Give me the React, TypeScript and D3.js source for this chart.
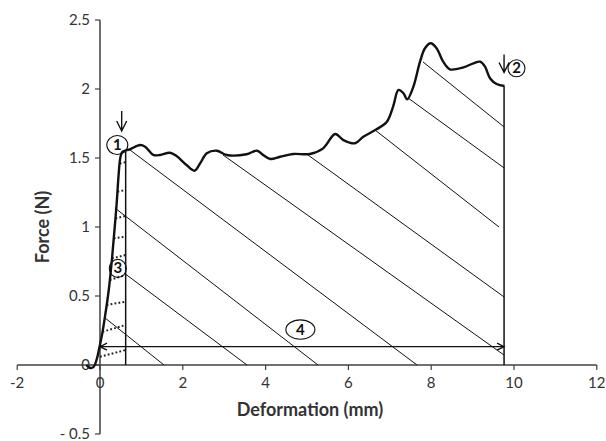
import React, { useEffect, useRef } from 'react';
import * as d3 from 'd3';

// trace: deformation (mm) and force (N)
const deformation = [
  -0.33, -0.25, -0.16, -0.08, -0.02, 0.05, 0.13, 0.21, 0.29, 0.35, 0.40, 0.45, 0.49, 0.54,
  0.72, 0.97, 1.09, 1.29, 1.45, 1.69, 1.85, 2.09, 2.28, 2.42, 2.58, 2.82, 3.06, 3.54,
  3.79, 3.94, 4.11, 4.35, 4.67, 5.07, 5.39, 5.68, 5.88, 6.16, 6.36, 6.68, 6.93, 7.08,
  7.21, 7.33, 7.42, 7.57, 7.73, 7.85, 7.99, 8.13, 8.29, 8.45, 8.78, 9.02, 9.18, 9.30,
  9.42, 9.58, 9.77
];
const force = [
  0.0, -0.02, -0.015, 0.04, 0.12, 0.22, 0.37, 0.54, 0.77, 0.98, 1.16, 1.38, 1.50, 1.545,
  1.563, 1.594, 1.582, 1.522, 1.522, 1.538, 1.514, 1.449, 1.408, 1.462, 1.534, 1.553, 1.522, 1.527,
  1.553, 1.522, 1.493, 1.509, 1.529, 1.529, 1.570, 1.674, 1.630, 1.607, 1.654, 1.708, 1.763, 1.872,
  1.993, 1.969, 1.925, 2.017, 2.198, 2.295, 2.331, 2.295, 2.198, 2.143, 2.157, 2.186, 2.198, 2.162,
  2.078, 2.036, 2.022
];

const xTicks = [-2, 0, 2, 4, 6, 8, 10, 12];
const xTickLabels = ['-2', '0', '2', '4', '6', '8', '10', '12'];
const yTicks = [-0.5, 0, 0.5, 1, 1.5, 2, 2.5];
const yTickLabels = ['- 0.5', '0', '0.5', '1', '1.5', '2', '2.5'];

// hatching of the work area, each [x0, f0, x1, f1]
const hatchLines = [
  [0.725, 1.558, 7.657, 0],
  [0.36, 1.138, 5.266, 0],
  [0.58, 0.667, 3.551, 0],
  [0.121, 0.341, 1.546, 0],
  [2.971, 1.522, 9.76, 0.072],
  [5.024, 1.522, 9.76, 0.493],
  [6.643, 1.703, 9.638, 1.0],
  [7.44, 1.935, 9.76, 1.428],
  [7.802, 2.196, 9.76, 1.725]
];
// dotted hatching of the loading triangle
const dottedLines = [
  [0.477, 1.46, 0.62, 1.47],
  [0.422, 1.256, 0.62, 1.268],
  [0.373, 1.063, 0.62, 1.08],
  [0.332, 0.918, 0.62, 0.93],
  [0.29, 0.773, 0.62, 0.797],
  [0.236, 0.616, 0.62, 0.652],
  [0.16, 0.435, 0.62, 0.459],
  [0.061, 0.241, 0.62, 0.29],
  [0.0, 0.06, 0.62, 0.109]
];

// limits of the area
const boundX = [0.62, 9.76];
const boundTop = [1.55, 2.02];
const spanForce = 0.133;

// down arrows over points 1 and 2
const arrowX = [0.524, 9.76];
const arrowTop = [1.84, 2.25];
const arrowBottom = [1.696, 2.12];

// numbered markers
const markerLabels = ['1', '2', '3', '4'];
const markerX = [0.418, 10.06, 0.43, 4.84];
const markerF = [1.594, 2.15, 0.70, 0.257];
const markerRx = [10.5, 8.5, 8.5, 14.5];
const markerRy = [9.5, 8.5, 9, 9.7];

const App = () => {
  const ref = useRef(null);

  useEffect(() => {
    const svg = d3.select(ref.current);
    svg.selectAll('*').remove();

    const x = d3.scaleLinear().domain([-2, 12]).range([17.2, 596.8]);
    const y = d3.scaleLinear().domain([-0.5, 2.5]).range([434, 20]);
    const font = 'Lato, "Open Sans", sans-serif';
    const ink = '#111';
    const axisInk = '#404040';

    // axes
    svg.append('line')
      .attr('x1', x(-2)).attr('x2', x(12)).attr('y1', y(0)).attr('y2', y(0))
      .attr('stroke', axisInk).attr('stroke-width', 1.5);
    svg.append('line')
      .attr('x1', x(0)).attr('x2', x(0)).attr('y1', y(-0.5)).attr('y2', y(2.5))
      .attr('stroke', axisInk).attr('stroke-width', 1.5);

    svg.selectAll('.xtick').data(xTicks).enter().append('line')
      .attr('class', 'xtick')
      .attr('x1', d => x(d)).attr('x2', d => x(d))
      .attr('y1', y(0)).attr('y2', y(0) + 5)
      .attr('stroke', axisInk).attr('stroke-width', 1.2);
    svg.selectAll('.xlabel').data(xTicks).enter().append('text')
      .attr('class', 'xlabel')
      .attr('x', d => x(d)).attr('y', y(0) + 23)
      .attr('text-anchor', 'middle')
      .attr('font-family', font).attr('font-size', 15).attr('fill', '#333')
      .text((d, i) => xTickLabels[i]);

    svg.selectAll('.ytick').data(yTicks).enter().append('line')
      .attr('class', 'ytick')
      .attr('x1', x(0) - 5).attr('x2', x(0))
      .attr('y1', d => y(d)).attr('y2', d => y(d))
      .attr('stroke', axisInk).attr('stroke-width', 1.2);
    svg.selectAll('.ylabel').data(yTicks).enter().append('text')
      .attr('class', 'ylabel')
      .attr('x', x(0) - 10).attr('y', d => y(d) + 5)
      .attr('text-anchor', 'end')
      .attr('font-family', font).attr('font-size', 15).attr('fill', '#333')
      .text((d, i) => yTickLabels[i]);

    svg.append('text')
      .attr('x', 310).attr('y', 416)
      .attr('text-anchor', 'middle')
      .attr('font-family', font).attr('font-size', 18).attr('font-weight', 'bold').attr('fill', '#333')
      .text('Deformation (mm)');
    svg.append('text')
      .attr('transform', `translate(49,${(y(-0.5) + y(2.5)) / 2}) rotate(-90)`)
      .attr('text-anchor', 'middle')
      .attr('font-family', font).attr('font-size', 18).attr('font-weight', 'bold').attr('fill', '#333')
      .text('Force (N)');

    // hatching
    svg.append('g').selectAll('line').data(hatchLines).enter().append('line')
      .attr('x1', d => x(d[0])).attr('y1', d => y(d[1]))
      .attr('x2', d => x(d[2])).attr('y2', d => y(d[3]))
      .attr('stroke', ink).attr('stroke-width', 1);
    svg.append('g').selectAll('line').data(dottedLines).enter().append('line')
      .attr('x1', d => x(d[0])).attr('y1', d => y(d[1]))
      .attr('x2', d => x(d[2])).attr('y2', d => y(d[3]))
      .attr('stroke', '#222').attr('stroke-width', 2).attr('stroke-dasharray', '1.8,2.2');

    // limits of the area
    svg.selectAll('.bound').data(boundX).enter().append('line')
      .attr('class', 'bound')
      .attr('x1', d => x(d)).attr('x2', d => x(d))
      .attr('y1', y(0)).attr('y2', (d, i) => y(boundTop[i]))
      .attr('stroke', ink).attr('stroke-width', 1.5);

    // span arrow
    const ya = y(spanForce);
    const xa0 = x(0), xa1 = x(boundX[1]);
    svg.append('line')
      .attr('x1', xa0).attr('x2', xa1).attr('y1', ya).attr('y2', ya)
      .attr('stroke', ink).attr('stroke-width', 1.3);
    svg.append('path')
      .attr('d', `M${xa0 + 7},${ya - 3.5}L${xa0},${ya}L${xa0 + 7},${ya + 3.5}M${xa1 - 7},${ya - 3.5}L${xa1},${ya}L${xa1 - 7},${ya + 3.5}`)
      .attr('fill', 'none').attr('stroke', ink).attr('stroke-width', 1.3);

    // trace
    const line = d3.line()
      .x((d, i) => x(deformation[i]))
      .y((d, i) => y(force[i]))
      .curve(d3.curveCatmullRom.alpha(0.5));
    svg.append('path')
      .datum(force)
      .attr('d', line)
      .attr('fill', 'none').attr('stroke', ink).attr('stroke-width', 2.4)
      .attr('stroke-linejoin', 'round');

    // down arrows
    arrowX.forEach((ax, i) => {
      const px = x(ax), top = y(arrowTop[i]), bot = y(arrowBottom[i]);
      svg.append('path')
        .attr('d', `M${px},${top}L${px},${bot}M${px - 5},${bot - 10}L${px},${bot}L${px + 5},${bot - 10}`)
        .attr('fill', 'none').attr('stroke', ink).attr('stroke-width', 1.4);
    });

    // numbered markers
    const m = svg.selectAll('.marker').data(markerLabels).enter().append('g')
      .attr('class', 'marker')
      .attr('transform', (d, i) => `translate(${x(markerX[i])},${y(markerF[i])})`);
    m.append('ellipse')
      .attr('rx', (d, i) => markerRx[i]).attr('ry', (d, i) => markerRy[i])
      .attr('fill', 'none').attr('stroke', ink).attr('stroke-width', 1.1);
    m.append('text')
      .attr('y', 5)
      .attr('text-anchor', 'middle')
      .attr('font-family', font).attr('font-size', 15).attr('font-weight', 'bold').attr('fill', ink)
      .text(d => d);
  }, []);

  return (
    <svg ref={ref} width={606} height={441}
      style={{ position: 'absolute', left: 0, top: 0, background: '#fff' }} />
  );
};

export default App;
